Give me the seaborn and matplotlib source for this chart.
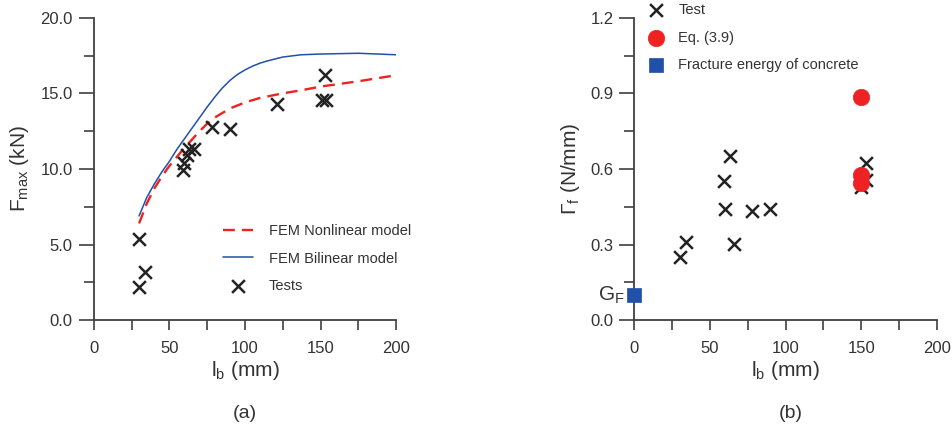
import matplotlib
matplotlib.use("Agg")
import matplotlib.pyplot as plt
import numpy as np
import pandas as pd
import seaborn as sns
from matplotlib.ticker import MultipleLocator, FormatStrFormatter

# ---- data: panel (a) ----
lb_curve = [30, 35, 40, 45, 50, 55, 60, 65, 70, 75, 80, 85, 90, 95, 100,
            105, 110, 115, 125, 137, 150, 175, 200]
f_nonlinear = [6.4, 7.7, 8.7, 9.5, 10.2, 10.8, 11.4, 11.95, 12.5, 13.0, 13.4,
               13.7, 14.0, 14.2, 14.4, 14.55, 14.7, 14.8, 15.0, 15.2, 15.45,
               15.8, 16.2]
f_bilinear = [6.9, 8.1, 9.0, 9.8, 10.5, 11.3, 12.0, 12.7, 13.4, 14.1, 14.75,
              15.35, 15.85, 16.25, 16.55, 16.8, 17.0, 17.15, 17.4, 17.55,
              17.6, 17.65, 17.55]
lb_tests_a = [30, 34, 30, 59, 59.5, 61.5, 63, 66, 78, 90, 121, 151, 153.5, 153]
f_tests = [5.35, 3.2, 2.18, 9.95, 10.4, 10.95, 11.3, 11.3, 12.75, 12.62,
           14.27, 14.56, 14.56, 16.2]

# ---- data: panel (b) ----
lb_tests_b = [30, 34, 59, 63, 60, 66, 78, 90, 153, 153, 150]
gamma_tests = [0.252, 0.312, 0.552, 0.651, 0.441, 0.301, 0.433, 0.443,
               0.622, 0.556, 0.53]
lb_eq = [150, 150, 150]
gamma_eq = [0.884, 0.578, 0.543]
lb_gf = [0]
gamma_gf = [0.10]

sns.set_theme(style="ticks")
plt.rcParams["font.family"] = ["Liberation Sans", "DejaVu Sans"]
plt.rcParams["mathtext.fontset"] = "custom"
plt.rcParams["mathtext.rm"] = "Liberation Sans"
plt.rcParams["mathtext.it"] = "Liberation Sans:italic"

SPINE = "#404040"
TXT = "#333333"
CROSS = "#222222"
RED = "#ee2222"
BLUE = "#2150a8"

fig = plt.figure(figsize=(9.52, 4.32), dpi=100)
ax1 = fig.add_axes([0.0984, 0.2586, 0.3179, 0.7004])
ax2 = fig.add_axes([0.6663, 0.2586, 0.3177, 0.7004])

df_curve = pd.DataFrame({"lb": lb_curve, "nl": f_nonlinear, "bl": f_bilinear})
sns.lineplot(data=df_curve, x="lb", y="nl", ax=ax1, color=RED, lw=1.7,
             linestyle=(0, (5, 3)), label="FEM Nonlinear model")
sns.lineplot(data=df_curve, x="lb", y="bl", ax=ax1, color=BLUE, lw=1.1,
             label="FEM Bilinear model")
df_ta = pd.DataFrame({"lb": lb_tests_a, "f": f_tests})
sns.scatterplot(data=df_ta, x="lb", y="f", ax=ax1, marker="x", s=85,
                color=CROSS, linewidth=1.8, label="Tests", zorder=3)

df_tb = pd.DataFrame({"lb": lb_tests_b, "g": gamma_tests})
sns.scatterplot(data=df_tb, x="lb", y="g", ax=ax2, marker="x", s=85,
                color=CROSS, linewidth=1.8, label="Test", zorder=3)
df_eq = pd.DataFrame({"lb": lb_eq, "g": gamma_eq})
sns.scatterplot(data=df_eq, x="lb", y="g", ax=ax2, marker="o", s=140,
                color=RED, edgecolor=RED, linewidth=0.5, label="Eq. (3.9)",
                zorder=4)
df_gf = pd.DataFrame({"lb": lb_gf, "g": gamma_gf})
sns.scatterplot(data=df_gf, x="lb", y="g", ax=ax2, marker="s", s=90,
                color=BLUE, edgecolor=BLUE, linewidth=0.5,
                label="Fracture energy of concrete", zorder=5, clip_on=False)

for ax, ymax, ystep, fmt in [(ax1, 20, 5, "%.1f"), (ax2, 1.2, 0.3, "%.1f")]:
    ax.set_xlim(0, 200)
    ax.set_ylim(0, ymax)
    ax.xaxis.set_major_locator(MultipleLocator(50))
    ax.xaxis.set_minor_locator(MultipleLocator(25))
    ax.yaxis.set_major_locator(MultipleLocator(ystep))
    ax.yaxis.set_minor_locator(MultipleLocator(ystep / 2))
    ax.yaxis.set_major_formatter(FormatStrFormatter(fmt))
    for s in ["top", "right"]:
        ax.spines[s].set_visible(False)
    for s in ["left", "bottom"]:
        ax.spines[s].set_color(SPINE)
        ax.spines[s].set_linewidth(1.3)
    ax.tick_params(axis="x", which="both", direction="out", length=7,
                   width=1.2, color=SPINE, labelsize=12, labelcolor=TXT, pad=8)
    ax.tick_params(axis="y", which="major", direction="out", length=11,
                   width=1.2, color=SPINE, labelsize=12, labelcolor=TXT, pad=4)
    ax.tick_params(axis="y", which="minor", direction="out", length=7,
                   width=1.2, color=SPINE)
    ax.set_xlabel(r"$\mathregular{l_b}$ (mm)", fontsize=15, color=TXT,
                  labelpad=2)

ax1.set_ylabel(r"$\mathregular{F_{max}}$ (kN)", fontsize=15, color=TXT,
               labelpad=7)
ax2.set_ylabel(r"$\mathregular{Γ_f}$ (N/mm)", fontsize=15, color=TXT,
               labelpad=6)

ax2.text(-6, 0.10, r"$\mathregular{G_F}$", ha="right", va="center",
         fontsize=15, color=TXT, clip_on=False)

ax1.legend(loc="upper left", bbox_to_anchor=(0.234, 0.4815),
           bbox_transform=fig.transFigure, frameon=False, fontsize=10.5,
           handlelength=2.1, handletextpad=1.05, labelspacing=0.93,
           borderpad=0, borderaxespad=0, labelcolor=TXT)
ax2.legend(loc="upper left", bbox_to_anchor=(0.681, 0.993),
           bbox_transform=fig.transFigure, frameon=False, fontsize=10.5,
           handlelength=1.0, handletextpad=1.05, labelspacing=0.93,
           borderpad=0, borderaxespad=0, labelcolor=TXT)

fig.text(245 / 952, 1 - 414 / 432, "(a)", ha="center", va="center",
         fontsize=14, color=TXT)
fig.text(791 / 952, 1 - 414 / 432, "(b)", ha="center", va="center",
         fontsize=14, color=TXT)

fig.savefig("out.png", dpi=100)
